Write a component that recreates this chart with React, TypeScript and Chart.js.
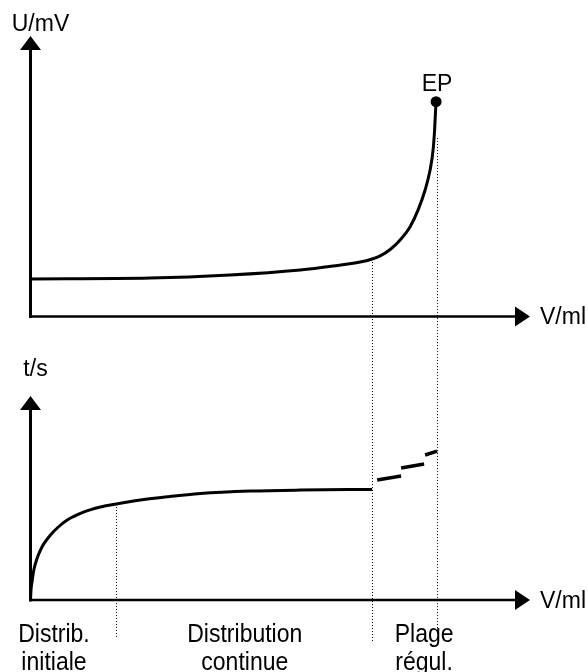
import React, { useEffect, useRef } from "react";
import { Chart, registerables } from "chart.js";

Chart.register(...registerables);

// ---- data (arbitrary axis units) ----
const V_AXIS_MAX = 10; // V/ml axis, arrow tip
const U_AXIS_MAX = 100; // U/mV axis, arrow tip
const T_AXIS_MAX = 100; // t/s axis, arrow tip

// upper panel: potential curve U(V)
const potentialV = [0, 2.39, 3.99, 5.4, 6.06, 6.6, 6.84, 7.0, 7.2, 7.4, 7.6, 7.76, 7.9, 8.0, 8.06, 8.09, 8.11, 8.12];
const potentialU = [13.4, 13.7, 14.8, 16.6, 18.0, 19.4, 20.5, 21.6, 23.9, 27.3, 32.0, 38.0, 45.1, 52.2, 59.4, 66.5, 73.6, 76.6];

// end point
const endPointV = [8.12];
const endPointU = [76.6];
const endPointLabel = "EP";

// lower panel: time curve t(V)
const timeV = [0, 0.01, 0.03, 0.066, 0.134, 0.2, 0.266, 0.4, 0.535, 0.735, 1.06, 1.4, 1.72, 2.2, 2.74, 3.4, 4.4, 5.41, 6.84];
const timeT = [0, 4.9, 8.8, 14.7, 20.6, 24.5, 27.5, 31.9, 35.3, 39.2, 43.1, 45.6, 47.1, 49.0, 50.6, 52.2, 53.4, 53.9, 54.2];

// lower panel: dashed regulation steps (null = break)
const stepV = [6.94, 7.42, 7.42, 7.42, 7.88, 7.89, 7.9, 8.14];
const stepT = [58.8, 60.8, null, 64.7, 66.7, null, 71.1, 73.0];

// region dividers (dotted)
const dividerV = [1.71, 6.84, 8.13];
const dividerFromAxis = ["yT", "yU", "yU"];
const dividerFromValue = [47.1, 20.5, 63.6];

// region labels
const regionLabelV = [0.47, 4.29, 7.88];
const regionLine1 = ["Distrib.", "Distribution", "Plage"];
const regionLine2 = ["initiale", "continue", "régul."];

// axis titles
const uTitle = "U/mV";
const tTitle = "t/s";
const vTitle = "V/ml";

// ---- styles ----
const FONT = "23px 'Liberation Sans', Arial, Helvetica, sans-serif";
const DIVIDER_BELOW = [37, 42, 35];

function pts(xs: number[], ys: (number | null)[]) {
  return xs.map((x, i) => ({ x, y: ys[i] }));
}

function drawAxisPair(ctx: CanvasRenderingContext2D, x: any, y: any, yMax: number) {
  const x0 = x.getPixelForValue(0);
  const y0 = y.getPixelForValue(0);
  const xTip = x.getPixelForValue(V_AXIS_MAX);
  const yTip = y.getPixelForValue(yMax);
  ctx.strokeStyle = "#000";
  ctx.fillStyle = "#000";
  ctx.lineCap = "butt";
  ctx.lineWidth = 3;
  ctx.beginPath();
  ctx.moveTo(x0, y0 + 1.5);
  ctx.lineTo(x0, yTip + 12);
  ctx.stroke();
  ctx.lineWidth = 2.5;
  ctx.beginPath();
  ctx.moveTo(x0, y0);
  ctx.lineTo(xTip - 12, y0);
  ctx.stroke();
  // arrow heads
  ctx.beginPath();
  ctx.moveTo(x0, yTip);
  ctx.lineTo(x0 - 10.5, yTip + 14);
  ctx.lineTo(x0 + 10.5, yTip + 14);
  ctx.closePath();
  ctx.fill();
  ctx.beginPath();
  ctx.moveTo(xTip, y0);
  ctx.lineTo(xTip - 15, y0 - 10);
  ctx.lineTo(xTip - 15, y0 + 10);
  ctx.closePath();
  ctx.fill();
}

const overlay = {
  id: "overlay",
  beforeDatasetsDraw(chart: any) {
    const ctx: CanvasRenderingContext2D = chart.ctx;
    const { x, yU, yT } = chart.scales;
    ctx.save();
    ctx.strokeStyle = "#000";
    ctx.lineWidth = 1;
    ctx.setLineDash([1, 2]);
    dividerV.forEach((v, i) => {
      const sc = chart.scales[dividerFromAxis[i]];
      const px = Math.round(x.getPixelForValue(v)) + 0.5;
      const top = sc.getPixelForValue(dividerFromValue[i]);
      const bottom = yT.getPixelForValue(0) + DIVIDER_BELOW[i];
      ctx.beginPath();
      ctx.moveTo(px, top);
      ctx.lineTo(px, bottom);
      ctx.stroke();
    });
    ctx.setLineDash([]);
    drawAxisPair(ctx, x, yU, U_AXIS_MAX);
    drawAxisPair(ctx, x, yT, T_AXIS_MAX);
    ctx.restore();
  },
  afterDatasetsDraw(chart: any) {
    const ctx: CanvasRenderingContext2D = chart.ctx;
    const { x, yU, yT } = chart.scales;
    const x0 = x.getPixelForValue(0);
    const xTip = x.getPixelForValue(V_AXIS_MAX);
    ctx.save();
    ctx.fillStyle = "#000";
    ctx.font = FONT;
    ctx.textBaseline = "alphabetic";
    // axis titles
    ctx.textAlign = "center";
    ctx.fillText(uTitle, x0 + 10, yU.getPixelForValue(U_AXIS_MAX) - 5);
    ctx.fillText(tTitle, x0 + 5, yT.getPixelForValue(T_AXIS_MAX) - 20);
    ctx.textAlign = "left";
    ctx.fillText(vTitle, xTip + 10, yU.getPixelForValue(0) + 8);
    ctx.fillText(vTitle, xTip + 10, yT.getPixelForValue(0) + 8);
    // EP label
    ctx.textAlign = "center";
    ctx.fillText(endPointLabel, x.getPixelForValue(endPointV[0]) + 1, yU.getPixelForValue(endPointU[0]) - 11);
    // region labels (slightly tall type)
    const base = yT.getPixelForValue(0);
    regionLabelV.forEach((v, i) => {
      const px = x.getPixelForValue(v);
      [regionLine1[i], regionLine2[i]].forEach((txt, j) => {
        ctx.save();
        ctx.translate(px, base + (j === 0 ? 42 : 70));
        ctx.scale(1, 1.15);
        ctx.fillText(txt, 0, 0);
        ctx.restore();
      });
    });
    ctx.restore();
  },
};

export default function App() {
  const ref = useRef<HTMLCanvasElement>(null);
  useEffect(() => {
    const canvas = ref.current;
    if (!canvas) return;
    const chart = new Chart(canvas, {
      type: "line",
      data: {
        datasets: [
          {
            label: "U",
            data: pts(potentialV, potentialU),
            yAxisID: "yU",
            borderColor: "#000",
            borderWidth: 3,
            pointRadius: 0,
            fill: false,
            cubicInterpolationMode: "monotone",
            clip: false,
          },
          {
            label: "EP",
            data: pts(endPointV, endPointU),
            yAxisID: "yU",
            showLine: false,
            pointRadius: 5.5,
            pointBackgroundColor: "#000",
            pointBorderColor: "#000",
            pointBorderWidth: 0,
            clip: false,
          },
          {
            label: "t",
            data: pts(timeV, timeT),
            yAxisID: "yT",
            borderColor: "#000",
            borderWidth: 3,
            pointRadius: 0,
            fill: false,
            cubicInterpolationMode: "monotone",
            clip: false,
          },
          {
            label: "steps",
            data: pts(stepV, stepT),
            yAxisID: "yT",
            borderColor: "#000",
            borderWidth: 3.5,
            pointRadius: 0,
            fill: false,
            spanGaps: false,
            tension: 0,
            clip: false,
          },
        ],
      } as any,
      options: {
        responsive: false,
        animation: false,
        events: [],
        layout: { autoPadding: false, padding: { left: 30.5, right: 58, top: 36, bottom: 72 } },
        plugins: { legend: { display: false }, tooltip: { enabled: false }, title: { display: false } },
        scales: {
          x: { type: "linear", min: 0, max: V_AXIS_MAX, display: false },
          yU: { type: "linear", position: "left", min: -101.07, max: U_AXIS_MAX, display: false },
          yT: { type: "linear", position: "left", min: 0, max: 276.5, display: false },
        },
      } as any,
      plugins: [overlay],
    });
    return () => chart.destroy();
  }, []);
  return (
    <div style={{ position: "absolute", left: 0, top: 0, width: 588, height: 672, background: "#fff" }}>
      <canvas ref={ref} width={588} height={672} style={{ display: "block", width: 588, height: 672 }} />
    </div>
  );
}
